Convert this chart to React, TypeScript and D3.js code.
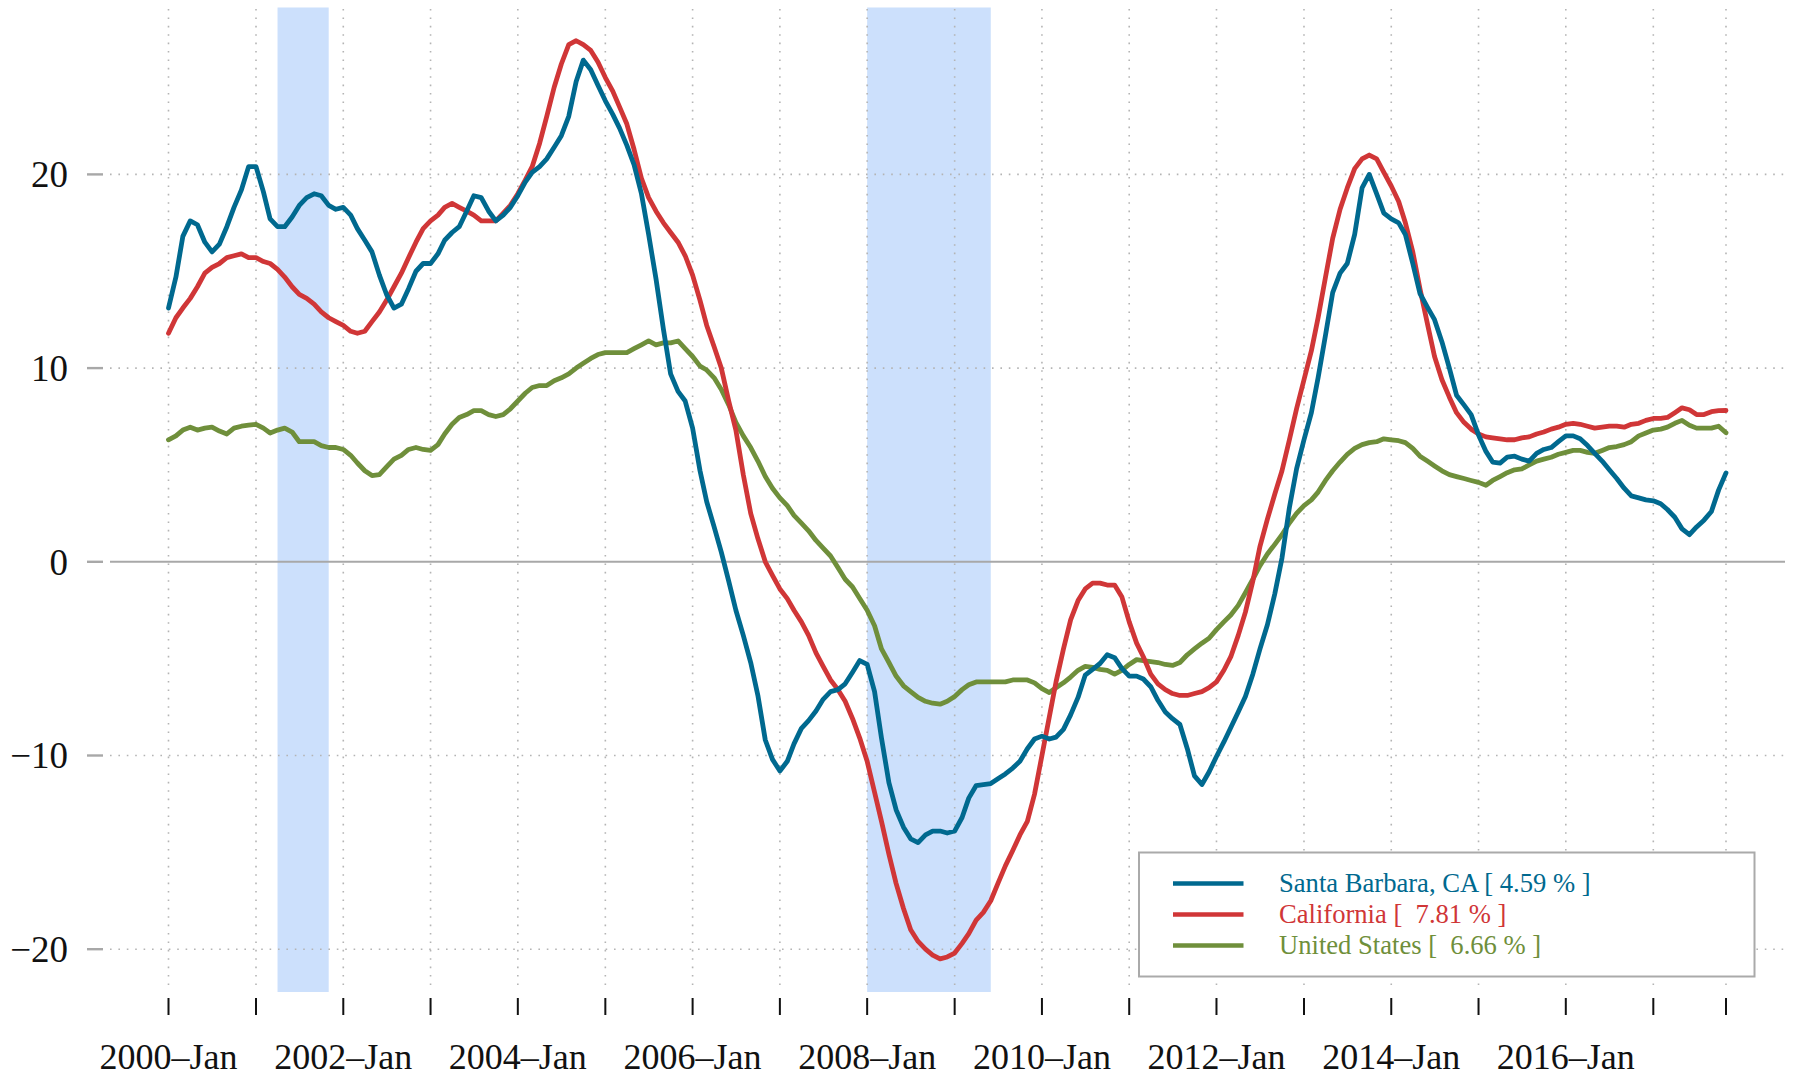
import React from "react";
import * as d3 from "d3";

// monthly year-over-year % change, 2000-Jan .. 2017-Nov
const startMonth = "2000-01-01";

const sbValues = [
  13.1, 14.7, 16.8, 17.6, 17.4, 16.5, 16.0, 16.4, 17.3, 18.3, 19.2, 20.4,
  20.4, 19.1, 17.7, 17.3, 17.3, 17.8, 18.4, 18.8, 19.0, 18.9, 18.4, 18.2,
  18.3, 17.9, 17.2, 16.6, 16.0, 14.8, 13.8, 13.1, 13.3, 14.1, 15.0, 15.4,
  15.4, 15.9, 16.6, 17.0, 17.3, 18.1, 18.9, 18.8, 18.1, 17.6, 17.9, 18.3,
  18.9, 19.6, 20.1, 20.4, 20.8, 21.4, 22.0, 23.0, 24.8, 25.9, 25.4, 24.6,
  23.8, 23.1, 22.4, 21.5, 20.5, 19.0, 16.9, 14.6, 12.0, 9.7, 8.8, 8.3,
  6.9, 4.7, 3.1, 1.8, 0.5, -1.0, -2.5, -3.8, -5.2, -6.9, -9.2, -10.2,
  -10.8, -10.3, -9.4, -8.6, -8.2, -7.7, -7.1, -6.7, -6.6, -6.3, -5.7, -5.1,
  -5.3, -6.7, -9.1, -11.4, -12.8, -13.7, -14.3, -14.5, -14.1, -13.9, -13.9, -14.0,
  -13.9, -13.2, -12.2, -11.55, -11.5, -11.45, -11.2, -10.95, -10.65, -10.3, -9.65, -9.15,
  -9.0, -9.15, -9.05, -8.65, -7.9, -7.0, -5.85, -5.55, -5.25, -4.8, -4.95, -5.5,
  -5.9, -5.9, -6.05, -6.45, -7.15, -7.75, -8.1, -8.4, -9.65, -11.05, -11.5, -10.85,
  -10.05, -9.3, -8.55, -7.75, -6.95, -5.8, -4.5, -3.25, -1.65, 0.2, 2.8, 4.8,
  6.3, 7.7, 9.5, 11.7, 13.9, 14.9, 15.4, 16.9, 19.3, 20.0, 19.0, 18.0,
  17.7, 17.5, 16.9, 15.4, 13.85, 13.15, 12.5, 11.35, 10.0, 8.6, 8.1, 7.6,
  6.55, 5.7, 5.15, 5.1, 5.4, 5.45, 5.3, 5.2, 5.6, 5.8, 5.9, 6.2,
  6.5, 6.5, 6.35, 6.0, 5.6, 5.2, 4.75, 4.3, 3.8, 3.4, 3.3, 3.2,
  3.15, 3.0, 2.7, 2.3, 1.7, 1.4, 1.8, 2.15, 2.6, 3.7, 4.59,
];

const caValues = [
  11.8, 12.6, 13.1, 13.6, 14.2, 14.9, 15.2, 15.4, 15.7, 15.8, 15.9, 15.7,
  15.7, 15.5, 15.4, 15.1, 14.7, 14.2, 13.8, 13.6, 13.3, 12.9, 12.6, 12.4,
  12.2, 11.9, 11.8, 11.9, 12.4, 12.9, 13.5, 14.2, 14.9, 15.7, 16.5, 17.2,
  17.6, 17.9, 18.3, 18.5, 18.3, 18.1, 17.9, 17.6, 17.6, 17.6, 18.0, 18.4,
  19.0, 19.7, 20.4, 21.6, 23.0, 24.5, 25.7, 26.7, 26.9, 26.7, 26.4, 25.8,
  25.0, 24.3, 23.5, 22.6, 21.3, 19.8, 18.8, 18.1, 17.5, 17.0, 16.5, 15.8,
  14.8, 13.5, 12.2, 11.1, 10.0, 8.3, 6.8, 4.5, 2.5, 1.2, 0.0, -0.7,
  -1.4, -1.9, -2.5, -3.1, -3.8, -4.7, -5.4, -6.1, -6.6, -7.2, -8.1, -9.1,
  -10.3, -11.9, -13.4, -15.1, -16.6, -17.9, -19.0, -19.6, -20.0, -20.3, -20.5, -20.4,
  -20.2, -19.7, -19.2, -18.5, -18.1, -17.5, -16.6, -15.7, -14.9, -14.1, -13.4, -12.0,
  -10.0, -8.0, -6.2, -4.5, -3.0, -2.0, -1.4, -1.1, -1.1, -1.2, -1.2, -1.8,
  -3.1, -4.2, -4.9, -5.8, -6.3, -6.6, -6.8, -6.9, -6.9, -6.8, -6.7, -6.5,
  -6.2, -5.6, -4.9, -3.8, -2.6, -1.0, 0.8, 2.2, 3.5, 4.7, 6.3, 7.9,
  9.4, 10.9, 12.6, 14.7, 16.7, 18.2, 19.3, 20.3, 20.8, 21.0, 20.8, 20.1,
  19.4, 18.6, 17.5, 16.0, 14.1, 12.3, 10.6, 9.4, 8.5, 7.7, 7.2, 6.85,
  6.6, 6.45, 6.4, 6.35, 6.3, 6.3, 6.4, 6.45, 6.6, 6.7, 6.85, 6.95,
  7.1, 7.15, 7.1, 7.0, 6.9, 6.95, 7.0, 7.0, 6.95, 7.1, 7.15, 7.3,
  7.4, 7.4, 7.45, 7.7, 7.95, 7.85, 7.6, 7.6, 7.75, 7.8, 7.81,
];

const usValues = [
  6.3, 6.5, 6.8, 6.95, 6.8, 6.9, 6.95, 6.75, 6.6, 6.9, 7.0, 7.05,
  7.1, 6.9, 6.65, 6.8, 6.9, 6.7, 6.2, 6.2, 6.2, 6.0, 5.9, 5.9,
  5.8, 5.5, 5.1, 4.7, 4.45, 4.5, 4.9, 5.3, 5.5, 5.8, 5.9, 5.8,
  5.75, 6.05, 6.6, 7.1, 7.45, 7.6, 7.8, 7.8, 7.6, 7.5, 7.6, 7.9,
  8.3, 8.7, 9.0, 9.1, 9.1, 9.35, 9.5, 9.7, 10.0, 10.25, 10.5, 10.7,
  10.8, 10.8, 10.8, 10.8, 11.0, 11.2, 11.4, 11.2, 11.3, 11.3, 11.4, 11.0,
  10.6, 10.1, 9.9, 9.5, 8.9, 8.1, 7.2, 6.5, 5.9, 5.2, 4.4, 3.8,
  3.3, 2.9, 2.4, 2.0, 1.6, 1.1, 0.7, 0.3, -0.3, -0.9, -1.3, -1.9,
  -2.5, -3.3, -4.5, -5.2, -5.9, -6.4, -6.7, -7.0, -7.2, -7.3, -7.35, -7.2,
  -6.95, -6.6, -6.35, -6.2, -6.2, -6.2, -6.2, -6.2, -6.1, -6.1, -6.1, -6.25,
  -6.55, -6.75, -6.5, -6.25, -5.95, -5.6, -5.4, -5.45, -5.55, -5.6, -5.8, -5.6,
  -5.3, -5.05, -5.1, -5.15, -5.2, -5.3, -5.35, -5.2, -4.8, -4.5, -4.2, -3.95,
  -3.5, -3.1, -2.75, -2.25, -1.6, -0.9, -0.2, 0.4, 0.9, 1.4, 2.0, 2.5,
  2.9, 3.2, 3.6, 4.2, 4.7, 5.15, 5.55, 5.85, 6.05, 6.15, 6.2, 6.35,
  6.3, 6.25, 6.15, 5.85, 5.45, 5.2, 4.95, 4.7, 4.5, 4.4, 4.3, 4.2,
  4.1, 3.95, 4.2, 4.4, 4.6, 4.75, 4.8, 5.0, 5.2, 5.3, 5.4, 5.55,
  5.65, 5.75, 5.75, 5.65, 5.6, 5.75, 5.9, 5.95, 6.05, 6.2, 6.5, 6.65,
  6.8, 6.85, 6.95, 7.15, 7.3, 7.05, 6.9, 6.9, 6.9, 7.0, 6.66,
];

const seriesNames = ["Santa Barbara, CA", "California", "United States"];
const legendLabels = [
  "Santa Barbara, CA [ 4.59 % ]",
  "California [  7.81 % ]",
  "United States [  6.66 % ]",
];
const seriesColors = ["#00698f", "#d03637", "#6f8f3b"];

const recessions = [
  ["2001-04-01", "2001-11-01"],
  ["2008-01-01", "2009-06-01"],
];

const yTicks = [-20, -10, 0, 10, 20];
const labelYears = [2000, 2002, 2004, 2006, 2008, 2010, 2012, 2014, 2016];

const W = 1798;
const H = 1079;
const FONT = "'Liberation Serif', 'Times New Roman', serif";

export default function App() {
  const start = new Date(startMonth);
  const dates = sbValues.map((_, i) => d3.utcMonth.offset(start, i));
  const endDate = dates[dates.length - 1];

  const x = d3.scaleUtc().domain([start, endDate]).range([168.5, 1726]);
  const y = d3.scaleLinear().domain([-20, 20]).range([949.2, 174.4]);

  const yearTicks = d3.utcYear.range(start, endDate);
  const xTicks = [...yearTicks, endDate];

  const line = d3
    .line<number>()
    .x((_, i) => x(dates[i]))
    .y((d) => y(d));

  const series = [sbValues, caValues, usValues];
  const drawOrder = [2, 1, 0];

  const gridLeft = 110;
  const gridRight = 1785;

  return (
    <div style={{ position: "absolute", left: 0, top: 0 }}>
      <svg width={W} height={H} style={{ display: "block", background: "#fff" }}>
        {recessions.map(([a, b], i) => (
          <rect
            key={i}
            x={x(new Date(a))}
            y={7.5}
            width={x(new Date(b)) - x(new Date(a))}
            height={992 - 7.5}
            fill="#cce0fc"
          />
        ))}

        {xTicks.map((d, i) => (
          <line
            key={"vg" + i}
            x1={x(d)}
            x2={x(d)}
            y1={9}
            y2={988}
            stroke="#b4b4b4"
            strokeWidth={1.6}
            strokeDasharray="1.6,6.8"
          />
        ))}

        {yTicks.map((t) =>
          t === 0 ? (
            <line
              key={"hg" + t}
              x1={gridLeft}
              x2={gridRight}
              y1={y(t)}
              y2={y(t)}
              stroke="#a8a8a8"
              strokeWidth={2}
            />
          ) : (
            <line
              key={"hg" + t}
              x1={gridLeft}
              x2={gridRight}
              y1={y(t)}
              y2={y(t)}
              stroke="#b4b4b4"
              strokeWidth={1.6}
              strokeDasharray="1.6,6.8"
            />
          )
        )}

        {yTicks.map((t) => (
          <g key={"yt" + t}>
            <line x1={87} x2={103} y1={y(t)} y2={y(t)} stroke="#a8a8a8" strokeWidth={2.4} />
            <text
              x={68}
              y={y(t)}
              dy="0.35em"
              textAnchor="end"
              fontFamily={FONT}
              fontSize={37}
              fill="#111"
            >
              {t < 0 ? "\u2212" + Math.abs(t) : String(t)}
            </text>
          </g>
        ))}

        {xTicks.map((d, i) => (
          <line
            key={"xt" + i}
            x1={x(d)}
            x2={x(d)}
            y1={998}
            y2={1015}
            stroke="#111"
            strokeWidth={2}
          />
        ))}

        {labelYears.map((yr) => (
          <text
            key={"xl" + yr}
            x={x(new Date(Date.UTC(yr, 0, 1)))}
            y={1069}
            textAnchor="middle"
            fontFamily={FONT}
            fontSize={36}
            fill="#111"
          >
            {yr + "\u2013Jan"}
          </text>
        ))}

        {drawOrder.map((k) => (
          <path
            key={seriesNames[k]}
            d={line(series[k]) || ""}
            fill="none"
            stroke={seriesColors[k]}
            strokeWidth={4.8}
            strokeLinejoin="round"
            strokeLinecap="round"
          />
        ))}

        <g>
          <rect
            x={1139}
            y={852.5}
            width={615.5}
            height={124}
            fill="#fff"
            stroke="#aaaaaa"
            strokeWidth={2}
          />
          {legendLabels.map((lab, i) => {
            const ly = 883.5 + i * 31;
            return (
              <g key={lab}>
                <line
                  x1={1173}
                  x2={1243.5}
                  y1={ly}
                  y2={ly}
                  stroke={seriesColors[i]}
                  strokeWidth={4.6}
                />
                <text
                  x={1279}
                  y={ly + 8.5}
                  fontFamily={FONT}
                  fontSize={26.6}
                  fill={seriesColors[i]}
                  style={{ whiteSpace: "pre" }}
                >
                  {lab}
                </text>
              </g>
            );
          })}
        </g>
      </svg>
    </div>
  );
}
